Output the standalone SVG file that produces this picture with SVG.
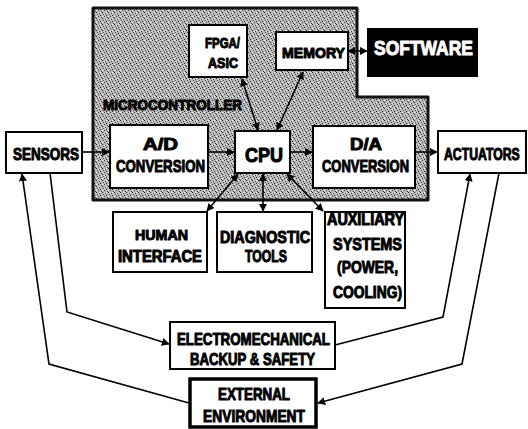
<svg xmlns="http://www.w3.org/2000/svg" width="528" height="429" viewBox="0 0 528 429">
<defs>
<pattern id="dots" width="6" height="6" patternUnits="userSpaceOnUse">
<rect width="6" height="6" fill="#b8b8b8"/>
<rect x="0" y="0" width="1" height="1" fill="#222"/>
<rect x="3" y="1" width="1" height="1" fill="#333"/>
<rect x="1" y="2" width="1" height="1" fill="#555"/>
<rect x="4" y="3" width="1" height="1" fill="#222"/>
<rect x="2" y="4" width="1" height="1" fill="#444"/>
<rect x="5" y="5" width="1" height="1" fill="#333"/>
<rect x="0" y="4" width="1" height="1" fill="#fff"/>
<rect x="4" y="0" width="1" height="1" fill="#fff"/>
<rect x="2" y="1" width="1" height="1" fill="#eee"/>
</pattern>
<marker id="ah" viewBox="0 0 10 10" refX="9" refY="5" markerWidth="8" markerHeight="8" markerUnits="userSpaceOnUse" orient="auto-start-reverse">
<path d="M0,0 L10,5 L0,10 Z" fill="#000"/>
</marker>
</defs>
<style>
.box{fill:#fff;stroke:#000;stroke-width:2}
.t{font-family:"Liberation Sans",Arial,sans-serif;font-weight:bold;font-size:17px;fill:#000;stroke:#000;stroke-width:1;stroke-linejoin:round;text-anchor:start}
.c{fill:none;stroke:#000;stroke-width:1.6}
</style>
<g id="microcontroller">
<path d="M93,8 H357 V97 H428 V200 H93 Z" fill="url(#dots)" stroke="#111" stroke-width="3" stroke-linejoin="round"/>
<text class="t" x="103" y="110" style="font-size:15px" textLength="139" lengthAdjust="spacingAndGlyphs">MICROCONTROLLER</text>
</g>
<g id="connectors">
<line class="c" x1="82" y1="152" x2="109" y2="152" marker-end="url(#ah)"/>
<line class="c" x1="208" y1="152" x2="234" y2="152" marker-end="url(#ah)"/>
<line class="c" x1="290" y1="152" x2="312" y2="152" marker-end="url(#ah)"/>
<line class="c" x1="415" y1="152" x2="437" y2="152" marker-end="url(#ah)"/>
<line class="c" x1="348" y1="51" x2="367" y2="51" marker-start="url(#ah)" marker-end="url(#ah)"/>
<line class="c" x1="242" y1="79" x2="258" y2="130" marker-start="url(#ah)" marker-end="url(#ah)"/>
<line class="c" x1="303" y1="72" x2="277" y2="130" marker-start="url(#ah)" marker-end="url(#ah)"/>
<line class="c" x1="238" y1="174" x2="207" y2="211" marker-start="url(#ah)" marker-end="url(#ah)"/>
<line class="c" x1="263" y1="174" x2="263" y2="211" marker-start="url(#ah)" marker-end="url(#ah)"/>
<line class="c" x1="287" y1="174" x2="323" y2="211" marker-start="url(#ah)" marker-end="url(#ah)"/>
<polyline class="c" points="50,173 67,312 169,344" marker-end="url(#ah)"/>
<polyline class="c" points="189,403 49,364 22,174" marker-end="url(#ah)"/>
<polyline class="c" points="335,345 443,317 470,174" marker-end="url(#ah)"/>
<polyline class="c" points="499,173 462,364 318,403" marker-end="url(#ah)"/>
</g>
<g id="fpga">
<rect class="box" x="189" y="25" width="58" height="52"/>
<text class="t" x="205" y="48" style="font-size:15px" textLength="35" lengthAdjust="spacingAndGlyphs">FPGA/</text>
<text class="t" x="208" y="68" style="font-size:15px" textLength="30" lengthAdjust="spacingAndGlyphs">ASIC</text>
</g>
<g id="memory">
<rect class="box" x="276" y="32" width="72" height="38"/>
<text class="t" x="282" y="58" style="font-size:15px" textLength="63" lengthAdjust="spacingAndGlyphs">MEMORY</text>
</g>
<g id="software">
<rect x="367" y="28" width="111" height="49" fill="#000"/>
<text class="t" x="374" y="55" style="font-size:21px;fill:#fff;stroke:#fff" textLength="99" lengthAdjust="spacingAndGlyphs">SOFTWARE</text>
</g>
<g id="ad">
<rect class="box" x="110" y="125" width="98" height="63"/>
<text class="t" x="143" y="150" textLength="35" lengthAdjust="spacingAndGlyphs">A/D</text>
<text class="t" x="116" y="172" textLength="89" lengthAdjust="spacingAndGlyphs">CONVERSION</text>
</g>
<g id="cpu">
<rect class="box" x="235" y="131" width="55" height="42"/>
<text class="t" x="245" y="162" style="font-size:20px" textLength="38" lengthAdjust="spacingAndGlyphs">CPU</text>
</g>
<g id="da">
<rect class="box" x="313" y="126" width="102" height="62"/>
<text class="t" x="350" y="150" textLength="32" lengthAdjust="spacingAndGlyphs">D/A</text>
<text class="t" x="322" y="172" textLength="87" lengthAdjust="spacingAndGlyphs">CONVERSION</text>
</g>
<g id="sensors">
<rect class="box" x="6" y="132" width="76" height="41"/>
<text class="t" x="13" y="160" textLength="66" lengthAdjust="spacingAndGlyphs">SENSORS</text>
</g>
<g id="actuators">
<rect class="box" x="438" y="131" width="88" height="42"/>
<text class="t" transform="translate(444,160) scale(0.72,1)" x="0" y="0">ACTUATORS</text>
</g>
<g id="human">
<rect class="box" x="113" y="212" width="94" height="60"/>
<text class="t" x="135" y="240" style="font-size:15px" textLength="53" lengthAdjust="spacingAndGlyphs">HUMAN</text>
<text class="t" x="118" y="262" style="font-size:16px" textLength="84" lengthAdjust="spacingAndGlyphs">INTERFACE</text>
</g>
<g id="diagnostic">
<rect class="box" x="217" y="212" width="95" height="60"/>
<text class="t" x="220" y="243" textLength="90" lengthAdjust="spacingAndGlyphs">DIAGNOSTIC</text>
<text class="t" x="245" y="262" textLength="42" lengthAdjust="spacingAndGlyphs">TOOLS</text>
</g>
<g id="auxiliary">
<rect class="box" x="325" y="212" width="80" height="96"/>
<text class="t" x="327" y="225" style="font-size:16px" textLength="77" lengthAdjust="spacingAndGlyphs">AUXILIARY</text>
<text class="t" x="333" y="250" textLength="69" lengthAdjust="spacingAndGlyphs">SYSTEMS</text>
<text class="t" x="337" y="273" textLength="61" lengthAdjust="spacingAndGlyphs">(POWER,</text>
<text class="t" x="333" y="298" textLength="69" lengthAdjust="spacingAndGlyphs">COOLING)</text>
</g>
<g id="electromechanical">
<rect class="box" x="170" y="322" width="165" height="47"/>
<text class="t" x="177" y="345" textLength="153" lengthAdjust="spacingAndGlyphs">ELECTROMECHANICAL</text>
<text class="t" x="190" y="365" textLength="125" lengthAdjust="spacingAndGlyphs">BACKUP &amp; SAFETY</text>
</g>
<g id="external">
<rect class="box" x="190" y="379" width="126" height="48" style="stroke-width:3.5"/>
<text class="t" x="218" y="400" textLength="72" lengthAdjust="spacingAndGlyphs">EXTERNAL</text>
<text class="t" x="203" y="422" textLength="102" lengthAdjust="spacingAndGlyphs">ENVIRONMENT</text>
</g>
</svg>
